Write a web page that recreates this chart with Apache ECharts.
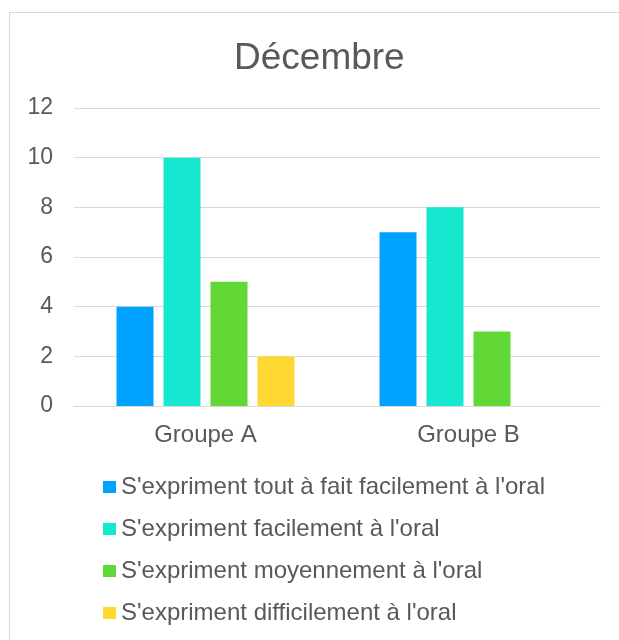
<!DOCTYPE html>
<html>
<head>
<meta charset="utf-8">
<script src="https://cdn.jsdelivr.net/npm/echarts@6/dist/echarts.min.js"></script>
<style>
	html, body { margin: 0; padding: 0; background: #fff; overflow: hidden; }
	#frame { position: absolute; left: 9px; top: 12px; width: 800px; height: 800px; border: 1px solid #d9d9d9; }
	#chart { position: absolute; left: 0; top: 0; width: 619px; height: 640px; }
</style>
</head>
<body>
<div id="frame"></div>
<div id="chart"></div>
<script>
// données
var groupes = ['Groupe A', 'Groupe B'];
var seriesNames = [
	"S'expriment tout à fait facilement à l'oral",
	"S'expriment facilement à l'oral",
	"S'expriment moyennement à l'oral",
	"S'expriment difficilement à l'oral"
];
var toutAFait = [4, 7];
var facilement = [10, 8];
var moyennement = [5, 3];
var difficilement = [2, 0];
var couleurs = ['#00A2FF', '#16E7CF', '#61D836', '#FFD932'];

var valeurs = [toutAFait, facilement, moyennement, difficilement];
var txt = '#595959';
var police = '"Liberation Sans", Arial, sans-serif';

function init(id){
	var myChart = echarts.init(document.getElementById(id));
	var series = [];
	for (var i = 0; i < seriesNames.length; i++) {
		series.push({
			name: seriesNames[i],
			type: 'bar',
			data: valeurs[i],
			barWidth: 37,
			barGap: '27%',
			itemStyle: { color: couleurs[i] }
		});
	}
	var option = {
		animation: false,
		textStyle: { fontFamily: police },
		title: {
			text: 'Décembre',
			left: 229,
			top: 35,
			textStyle: { color: txt, fontSize: 37, fontWeight: 'normal', fontFamily: police }
		},
		grid: { left: 74, right: 19, top: 108, bottom: 234 },
		legend: {
			orient: 'vertical',
			left: 103,
			top: 475,
			padding: 0,
			itemWidth: 13,
			itemHeight: 12,
			itemGap: 18,
			icon: 'rect',
			textStyle: { color: txt, fontSize: 24, lineHeight: 24, fontFamily: police },
			data: seriesNames
		},
		xAxis: {
			type: 'category',
			data: groupes,
			axisLine: { lineStyle: { color: '#d9d9d9', width: 1 } },
			axisTick: { show: false },
			axisLabel: { color: txt, fontSize: 24, margin: 17, fontFamily: police }
		},
		yAxis: {
			type: 'value',
			min: 0,
			max: 12,
			interval: 2,
			axisLine: { show: false },
			axisTick: { show: false },
			splitLine: { lineStyle: { color: '#d9d9d9', width: 1 } },
			axisLabel: { color: txt, fontSize: 23, margin: 21, fontFamily: police }
		},
		series: series
	};
	myChart.setOption(option);
}
init('chart');
</script>
</body>
</html>
